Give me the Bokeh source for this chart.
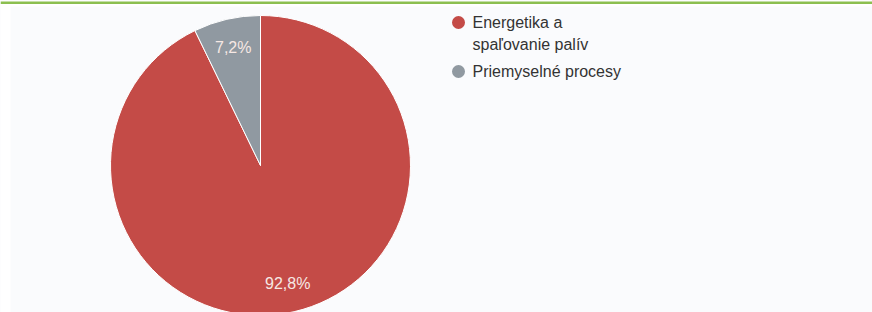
import math
from bokeh.plotting import figure
from bokeh.models import ColumnDataSource, Range1d
from bokeh.core.properties import value
from bokeh.embed import file_html
from bokeh.resources import INLINE

# data
categories = ["Energetika a spaľovanie palív", "Priemyselné procesy"]
legend_lines = [["Energetika a", "spaľovanie palív"], ["Priemyselné procesy"]]
shares = [92.8, 7.2]
labels = ["92,8%", "7,2%"]
colors = ["#c44b47", "#9099a1"]

W, H = 872, 312
OX, OY = 0, 0


def px(x):
    return x - OX


def py(y):
    return H - (y - OY)


p = figure(width=W, height=H, output_backend="svg", toolbar_location=None,
           x_range=Range1d(0, W), y_range=Range1d(0, H), min_border=0,
           background_fill_color="#fafbfd", border_fill_color="#ffffff",
           outline_line_color=None)
p.axis.visible = False
p.grid.visible = False

# white strip at left
p.quad(left=[0], right=[px(10)], bottom=[0], top=[H], fill_color="#ffffff", line_color=None)
# white strip at top
p.quad(left=[0], right=[W], bottom=[py(6)], top=[H], fill_color="#ffffff", line_color=None)
# green top line
p.quad(left=[0], right=[W], bottom=[py(3.5)], top=[py(1)], fill_color="#8cbf50", line_color=None)

cx, cy, r = px(260), py(165), 150
total = sum(shares)
starts, ends, mids = [], [], []
a = math.pi / 2
for s in shares:
    e = a - 2 * math.pi * s / total
    starts.append(a)
    ends.append(e)
    mids.append((a + e) / 2)
    a = e

src = ColumnDataSource(dict(start=starts, end=ends, color=colors))
p.wedge(x=cx, y=cy, radius=r, start_angle="start", end_angle="end", direction="clock",
        fill_color="color", line_color="#ffffff", line_width=1, source=src)

lx = [cx + 0.81 * r * math.cos(m) for m in mids]
ly = [cy + 0.81 * r * math.sin(m) for m in mids]
p.text(x=lx, y=ly, text=labels, text_align="center", text_baseline="middle",
       text_font=value("Liberation Sans"), text_font_size="16px", text_color="#f6e8e4")

# legend
leg_x = px(458)
leg_y = [py(22), py(71)]
p.scatter(x=[leg_x] * 2, y=leg_y, size=13, marker="circle", fill_color=colors, line_color=None)
tx, ty, tt = [], [], []
for i, lines in enumerate(legend_lines):
    for j, t in enumerate(lines):
        tx.append(px(472))
        ty.append(leg_y[i] - j * 22)
        tt.append(t)
p.text(x=tx, y=ty, text=tt, text_align="left", text_baseline="middle",
       text_font=value("Liberation Sans"), text_font_size="16px", text_color="#333333")

open("out.html", "w").write(file_html(p, INLINE))
